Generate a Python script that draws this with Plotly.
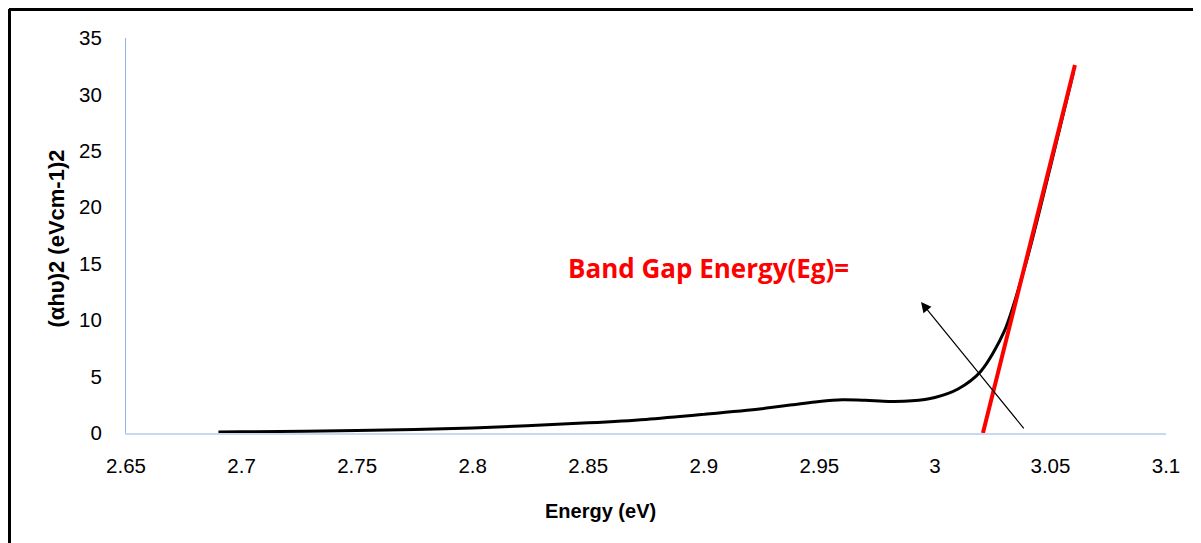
import plotly.graph_objects as go

energy = [2.69, 2.70, 2.75, 2.80, 2.85, 2.875, 2.90, 2.925, 2.95, 2.96, 2.97, 2.98, 2.99, 3.00, 3.01, 3.02, 3.03, 3.04, 3.05, 3.06]
ahv2 = [0.08, 0.10, 0.22, 0.45, 0.9, 1.2, 1.65, 2.15, 2.8, 2.95, 2.9, 2.8, 2.85, 3.15, 3.9, 5.5, 9.0, 15.5, 23.6, 32.0]

fit_x = [3.0208, 3.0606]
fit_y = [0.0, 32.6]

x_ticks = [2.65, 2.7, 2.75, 2.8, 2.85, 2.9, 2.95, 3.0, 3.05, 3.1]
x_tick_text = ["2.65", "2.7", "2.75", "2.8", "2.85", "2.9", "2.95", "3", "3.05", "3.1"]
y_ticks = [0, 5, 10, 15, 20, 25, 30, 35]

fig = go.Figure()
fig.add_trace(go.Scatter(x=energy, y=ahv2, mode="lines",
                         line=dict(color="black", width=3, shape="spline", smoothing=0.8),
                         showlegend=False, hoverinfo="skip"))
fig.add_trace(go.Scatter(x=fit_x, y=fit_y, mode="lines",
                         line=dict(color="#ff0000", width=4),
                         showlegend=False, hoverinfo="skip"))

fig.add_annotation(x=2.994, y=11.6, ax=3.039, ay=0.27, xref="x", yref="y", axref="x", ayref="y",
                   showarrow=True, arrowhead=2, arrowsize=1.7, arrowwidth=1.2, arrowcolor="black", text="")
fig.add_annotation(x=2.8405, y=14.6, xref="x", yref="y", text="<b>Band Gap Energy(Eg)=</b>",
                   showarrow=False, xanchor="left", yanchor="middle",
                   font=dict(family="Open Sans", size=26, color="#ff0000"))

# axis titles
fig.add_annotation(x=0.4567, y=-0.1975, xref="paper", yref="paper", text="<b>Energy (eV)</b>",
                   showarrow=False, xanchor="center", yanchor="middle",
                   font=dict(family="Liberation Sans", size=20, color="black"))
fig.add_annotation(x=-0.0659, y=0.4937, xref="paper", yref="paper", text="<b>(αhυ)2 (eVcm-1)2</b>",
                   showarrow=False, xanchor="center", yanchor="middle", textangle=-90,
                   font=dict(family="Liberation Sans", size=22, color="black"))

# partial frame (left and top)
fig.add_shape(type="line", xref="paper", yref="paper", x0=-0.1125, x1=-0.1125, y0=-0.3, y1=1.0734,
              line=dict(color="black", width=4))
fig.add_shape(type="line", xref="paper", yref="paper", x0=-0.1125, x1=1.04, y0=1.0734, y1=1.0734,
              line=dict(color="black", width=4))

fig.update_layout(
    width=1193, height=535,
    margin=dict(l=118, r=35, t=30, b=110),
    paper_bgcolor="white", plot_bgcolor="white",
    font=dict(family="Liberation Sans, Arial", size=20, color="black"),
    xaxis=dict(range=[2.65, 3.1], tickvals=x_ticks, ticktext=x_tick_text,
               showgrid=False, zeroline=False, showline=True, linecolor="#c6d9f1", linewidth=2,
               ticks="", ticklabelstandoff=13, tickfont=dict(size=20.5)),
    yaxis=dict(range=[0, 35], tickvals=y_ticks,
               showgrid=False, zeroline=False, showline=True, linecolor="#8db4e2", linewidth=1,
               ticks="", ticklabelstandoff=19, tickfont=dict(size=20.5)),
)

fig.write_html("out.html")
